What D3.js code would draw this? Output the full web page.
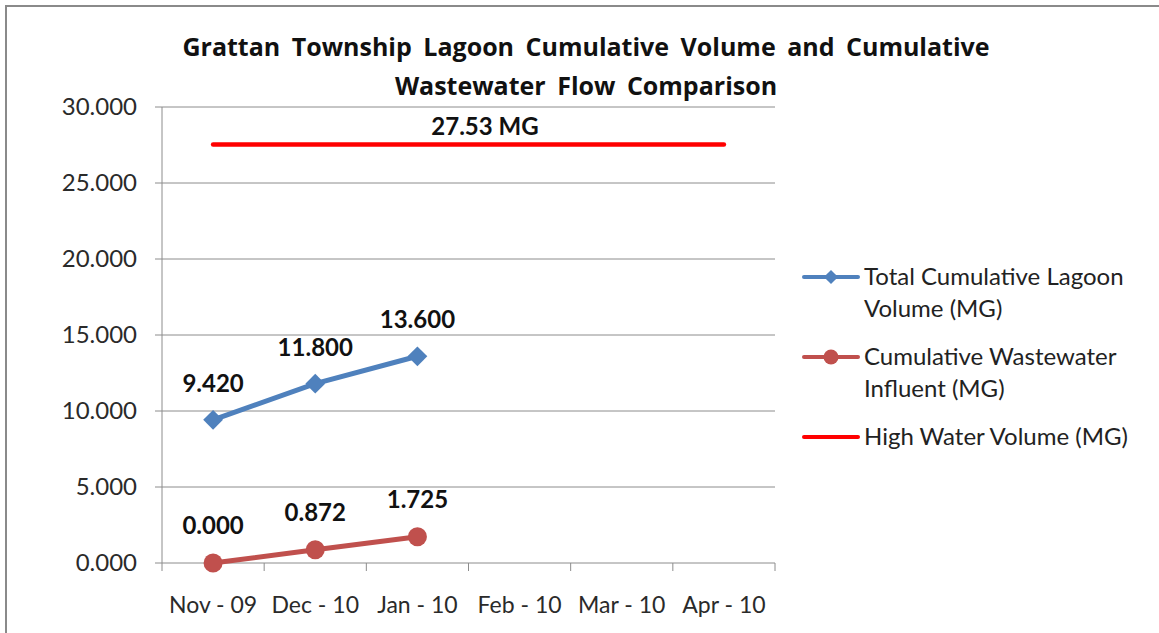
<!DOCTYPE html>
<html><head><meta charset="utf-8">
<script src="https://cdn.jsdelivr.net/npm/d3@7"></script>
<style>body{margin:0;background:#fff}svg{display:block}text{font-family:Lato,"Open Sans",sans-serif}</style>
</head><body><svg id="c" width="1159" height="633"></svg>
<script>
const categories = ["Nov - 09","Dec - 10","Jan - 10","Feb - 10","Mar - 10","Apr - 10"];
const lagoonVolume = [9.420, 11.800, 13.600];
const wastewaterInfluent = [0.000, 0.872, 1.725];
const highWater = [27.53, 27.53, 27.53, 27.53, 27.53, 27.53];
const yTicks = [0, 5, 10, 15, 20, 25, 30];
const titleLines = ["Grattan Township Lagoon Cumulative Volume and Cumulative", "Wastewater Flow Comparison"];
const legendNames = [["Total Cumulative Lagoon","Volume (MG)"],["Cumulative Wastewater","Influent (MG)"],["High Water Volume (MG)"]];
const highLabel = "27.53 MG";

const svg = d3.select("#c");
// frame
svg.append("path").attr("d","M6,633 L6,6 L1159,6").attr("fill","none").attr("stroke","#8a8a8a").attr("stroke-width",2);

const L=162, R=775, T=107, B=563;
const x = d3.scaleBand().domain(categories).range([L,R]);
const y = d3.scaleLinear().domain([0,30]).range([B,T]);
const cx = c => x(c)+x.bandwidth()/2;

// title
svg.append("text").attr("text-anchor","middle").attr("font-weight","bold").attr("font-size",25)
  .attr("fill","#111").style("font-family","'Open Sans',Lato,sans-serif").attr("word-spacing",5)
  .selectAll("tspan").data(titleLines).join("tspan").attr("x",586).attr("y",(d,i)=>56+i*39).text(d=>d);

// gridlines
svg.append("g").selectAll("line").data(yTicks).join("line")
  .attr("x1",L-7).attr("x2",R).attr("y1",d=>y(d)).attr("y2",d=>y(d)).attr("stroke","#8c8c8c").attr("stroke-width",1);
// y axis line
svg.append("line").attr("x1",L).attr("x2",L).attr("y1",T).attr("y2",B).attr("stroke","#8c8c8c");
// x tick marks
const xt = categories.map(c=>x(c)).concat([R]);
svg.append("g").selectAll("line").data(xt).join("line")
  .attr("x1",d=>d).attr("x2",d=>d).attr("y1",B).attr("y2",B+8).attr("stroke","#8c8c8c");

// y labels
svg.append("g").selectAll("text").data(yTicks).join("text")
  .attr("x",137).attr("y",d=>y(d)+8).attr("text-anchor","end").attr("font-size",24).attr("fill","#2a2a2a")
  .text(d=>d3.format(".3f")(d));
// x labels
svg.append("g").selectAll("text").data(categories).join("text")
  .attr("x",d=>cx(d)).attr("y",613).attr("text-anchor","middle").attr("font-size",23).attr("fill","#2a2a2a").text(d=>d);

const line = d3.line().x((d,i)=>cx(categories[i])).y(d=>y(d));
// high water
svg.append("path").datum(highWater).attr("d",line).attr("fill","none").attr("stroke","#ff0000").attr("stroke-width",4.5).attr("stroke-linecap","round");
svg.append("text").attr("x",485).attr("y",y(27.53)-10).attr("text-anchor","middle")
  .attr("font-size",24).attr("font-weight","bold").attr("fill","#111").text(highLabel);

// lagoon
svg.append("path").datum(lagoonVolume).attr("d",line).attr("fill","none").attr("stroke","#4f81bd").attr("stroke-width",5);
svg.append("g").selectAll("path").data(lagoonVolume).join("path")
  .attr("transform",(d,i)=>`translate(${cx(categories[i])},${y(d)}) rotate(45)`)
  .attr("d","M-7,-7L7,-7L7,7L-7,7Z").attr("fill","#4f81bd");
svg.append("g").selectAll("text").data(lagoonVolume).join("text")
  .attr("x",(d,i)=>cx(categories[i])).attr("y",d=>y(d)-28).attr("text-anchor","middle")
  .attr("font-size",24).attr("font-weight","bold").attr("fill","#111").text(d=>d3.format(".3f")(d));

// wastewater
svg.append("path").datum(wastewaterInfluent).attr("d",line).attr("fill","none").attr("stroke","#c0504d").attr("stroke-width",5);
svg.append("g").selectAll("circle").data(wastewaterInfluent).join("circle")
  .attr("cx",(d,i)=>cx(categories[i])).attr("cy",d=>y(d)).attr("r",9.5).attr("fill","#c0504d");
svg.append("g").selectAll("text").data(wastewaterInfluent).join("text")
  .attr("x",(d,i)=>cx(categories[i])).attr("y",d=>y(d)-29).attr("text-anchor","middle")
  .attr("font-size",24).attr("font-weight","bold").attr("fill","#111").text(d=>d3.format(".3f")(d));

// legend
const legY = [277, 357, 437];
const legColors = ["#4f81bd","#c0504d","#ff0000"];
const lg = svg.append("g");
legendNames.forEach((names,i)=>{
  lg.append("line").attr("x1",804).attr("x2",858).attr("y1",legY[i]).attr("y2",legY[i]).attr("stroke",legColors[i]).attr("stroke-width",4).attr("stroke-linecap","round");
  if(i===0) lg.append("path").attr("transform",`translate(831,${legY[i]}) rotate(45)`).attr("d","M-5,-5L5,-5L5,5L-5,5Z").attr("fill",legColors[i]);
  if(i===1) lg.append("circle").attr("cx",831).attr("cy",legY[i]).attr("r",7.5).attr("fill",legColors[i]);
  const t = lg.append("text").attr("font-size",24).attr("fill","#222");
  names.forEach((n,j)=>t.append("tspan").attr("x",864).attr("y",legY[i]+8+j*32).text(n));
});
</script></body></html>
